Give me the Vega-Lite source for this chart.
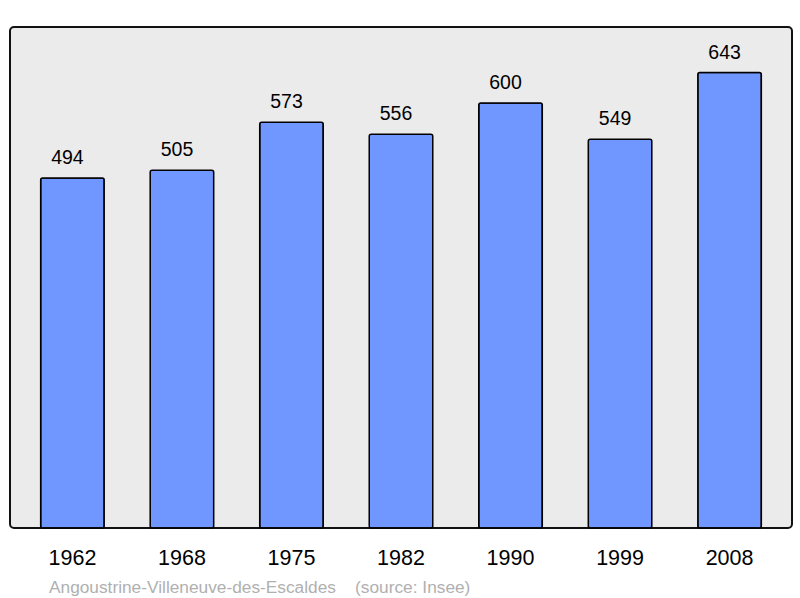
{
  "$schema": "https://vega.github.io/schema/vega-lite/v6.json",
  "width": 782,
  "height": 501,
  "autosize": {"type": "none"},
  "padding": {"left": 10, "top": 27, "right": 8, "bottom": 70},
  "background": "white",
  "config": {
    "font": "Liberation Sans",
    "view": {"fill": "#ebebeb", "stroke": "#111111", "strokeWidth": 2, "cornerRadius": 4}
  },
  "title": {
    "text": "Angoustrine-Villeneuve-des-Escaldes\u00a0\u00a0\u00a0\u00a0(source: Insee)",
    "orient": "bottom",
    "anchor": "start",
    "dx": 39,
    "offset": 10,
    "fontSize": 17.3,
    "fontWeight": "normal",
    "color": "#b0b0b0",
    "font": "Liberation Sans"
  },
  "data": {
    "values": [
      {"year": "1962", "population": 494},
      {"year": "1968", "population": 505},
      {"year": "1975", "population": 573},
      {"year": "1982", "population": 556},
      {"year": "1990", "population": 600},
      {"year": "1999", "population": 549},
      {"year": "2008", "population": 643}
    ]
  },
  "encoding": {
    "x": {
      "field": "year",
      "type": "ordinal",
      "scale": {"paddingInner": 0.42, "paddingOuter": 0.28},
      "axis": {
        "title": null,
        "labelAngle": 0,
        "labelFontSize": 21.5,
        "labelColor": "#000000",
        "labelPadding": 19,
        "ticks": false,
        "domain": false,
        "grid": false
      }
    },
    "y": {
      "field": "population",
      "type": "quantitative",
      "scale": {"domain": [0, 707.3], "nice": false, "zero": true},
      "axis": null
    }
  },
  "layer": [
    {
      "mark": {"type": "bar", "fill": "#7096ff", "stroke": "#000000", "strokeWidth": 1.5, "cornerRadius": 2}
    },
    {
      "mark": {"type": "text", "baseline": "alphabetic", "dy": -14, "dx": -5, "fontSize": 19.5, "color": "#000000"},
      "encoding": {"text": {"field": "population", "type": "quantitative"}}
    }
  ]
}
